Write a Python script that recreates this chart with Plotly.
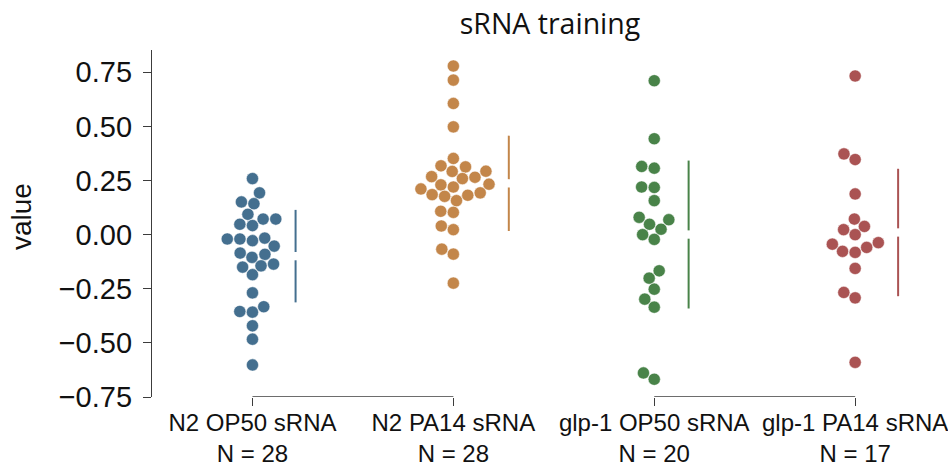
import numpy as np
import plotly.graph_objects as go

# ---------------- data ----------------
categories = ["N2 OP50 sRNA", "N2 PA14 sRNA", "glp-1 OP50 sRNA", "glp-1 PA14 sRNA"]

n2_op50 = [0.259, 0.193, 0.151, 0.143, 0.094, 0.048, 0.042, 0.072, 0.072,
           -0.016, -0.028, -0.020, -0.020, -0.053, -0.091, -0.105, -0.085,
           -0.150, -0.144, -0.136, -0.185, -0.269, -0.355, -0.358, -0.333,
           -0.421, -0.483, -0.602]
n2_pa14 = [0.779, 0.714, 0.606, 0.498, 0.352, 0.313, 0.318, 0.293, 0.292,
           0.265, 0.259, 0.268, 0.233, 0.220, 0.230, 0.211, 0.193, 0.182,
           0.177, 0.185, 0.157, 0.108, 0.103, 0.040, 0.023, -0.067, -0.090,
           -0.224]
glp1_op50 = [0.711, 0.443, 0.315, 0.307, 0.220, 0.218, 0.157, 0.080, 0.069,
             0.048, 0.025, 0.000, -0.022, -0.167, -0.201, -0.252, -0.298,
             -0.335, -0.639, -0.668]
glp1_pa14 = [0.733, 0.373, 0.347, 0.188, 0.072, 0.023, 0.038, 0.000, -0.044,
             -0.077, -0.082, -0.059, -0.037, -0.156, -0.267, -0.292, -0.590]

series = [n2_op50, n2_pa14, glp1_op50, glp1_pa14]
colors = ["#446f8f", "#c3864a", "#498349", "#aa5353"]

y_ticks = [-0.75, -0.5, -0.25, 0.0, 0.25, 0.5, 0.75]
title_text = "sRNA training"
y_label = "value"

# ---------------- layout constants ----------------
W, H = 948, 470
PLOT_L, PLOT_R, PLOT_T, PLOT_B = 152, 948, 50, 397   # page pixels
M_L, M_R, M_T, M_B = PLOT_L, W - PLOT_R, PLOT_T, H - PLOT_B
PX_X = 200.9
X_RANGE = [-0.5, -0.5 + (PLOT_R - PLOT_L) / PX_X]
Y_RANGE = [-0.75, 0.853]
PX_Y = (PLOT_B - PLOT_T) / (Y_RANGE[1] - Y_RANGE[0])
R = 6.03  # point radius in px for swarm layout


def beeswarm(values, center):
    """seaborn-style beeswarm computed in pixel space."""
    vals = np.asarray(values, dtype=float)
    n = len(vals)
    xyr = np.c_[np.full(n, center * PX_X), vals * PX_Y, np.full(n, R)]
    sorter = np.argsort(xyr[:, 1])
    orig = xyr[sorter]
    midline = orig[0, 0]
    swarm = np.atleast_2d(orig[0])
    for p in orig[1:]:
        x_i, y_i, r_i = p
        neigh = []
        for q in swarm[::-1]:
            if (y_i - q[1]) < (r_i + q[2]):
                neigh.append(q)
            else:
                break
        neigh = np.array(neigh).reshape(-1, 3)
        cands = [p]
        left_first = True
        for x_j, y_j, r_j in neigh:
            dy = y_i - y_j
            dx = np.sqrt(max((r_i + r_j) ** 2 - dy ** 2, 0)) * 1.05
            cl, cr = (x_j - dx, y_i, r_i), (x_j + dx, y_i, r_i)
            cands.extend([cl, cr] if left_first else [cr, cl])
            left_first = not left_first
        cands = np.array(cands)
        cands = cands[np.argsort(np.abs(cands[:, 0] - midline))]
        chosen = cands[0]
        if len(neigh):
            for c in cands:
                d2 = (neigh[:, 0] - c[0]) ** 2 + (neigh[:, 1] - c[1]) ** 2
                if np.all(d2 >= (neigh[:, 2] + c[2]) ** 2):
                    chosen = c
                    break
        swarm = np.vstack([swarm, chosen])
    out = np.empty_like(swarm)
    out[sorter] = swarm
    return out[:, 0] / PX_X


fig = go.Figure()
gap = 4.15 / PX_Y
for i, (vals, col) in enumerate(zip(series, colors)):
    xs = beeswarm(vals, i)
    fig.add_trace(go.Scatter(
        x=xs, y=vals, mode="markers", cliponaxis=False, showlegend=False,
        marker=dict(color=col, size=12.2, line=dict(color="white", width=0.5)),
    ))
    m = float(np.mean(vals))
    sd = float(np.std(vals, ddof=1))
    lx = float(np.max(xs)) + 19.8 / PX_X
    fig.add_trace(go.Scatter(
        x=[lx, lx, None, lx, lx],
        y=[m + sd, m + gap, None, m - gap, m - sd],
        mode="lines", line=dict(color=col, width=2), showlegend=False,
        hoverinfo="skip",
    ))

# category brackets (x spine pieces)
axis_col = "#3c3c3c"
for a, b in [(0, 1), (2, 3)]:
    fig.add_shape(type="line", xref="x", yref="y", x0=a, x1=b,
                  y0=Y_RANGE[0], y1=Y_RANGE[0],
                  line=dict(color=axis_col, width=1.3))

ticktext = [f"{c}<br>N = {len(s)}" for c, s in zip(categories, series)]

fig.update_layout(
    width=W, height=H,
    margin=dict(l=M_L, r=M_R, t=M_T, b=M_B, autoexpand=False),
    paper_bgcolor="white", plot_bgcolor="white",
    title=dict(text=title_text, x=0.5, xref="paper", xanchor="center",
               y=1 - 24 / H, yref="container", yanchor="middle",
               automargin=False,
               font=dict(family="Open Sans", size=28.5, color="#111111")),
    xaxis=dict(range=X_RANGE, tickmode="array", tickvals=[0, 1, 2, 3],
               ticktext=ticktext, ticks="outside", ticklen=8, tickwidth=1.3,
               tickcolor=axis_col, showline=False, showgrid=False,
               zeroline=False, ticklabelstandoff=-4, automargin=False,
               ticklabeloverflow="allow",
               tickfont=dict(family="Liberation Sans", size=24, color="#111111")),
    yaxis=dict(range=Y_RANGE, tickmode="array", tickvals=y_ticks,
               tickformat=".2f", ticks="outside", ticklen=8, tickwidth=1.3,
               tickcolor=axis_col, showline=True, linecolor=axis_col,
               linewidth=1.3, showgrid=False, zeroline=False,
               ticklabelstandoff=5, automargin=False,
               tickfont=dict(family="Liberation Sans", size=29, color="#111111")),
    annotations=[dict(text=y_label, textangle=-90, xref="paper", yref="paper",
                      x=(21.5 - PLOT_L) / (PLOT_R - PLOT_L),
                      y=(PLOT_B - 216.5) / (PLOT_B - PLOT_T),
                      xanchor="center", yanchor="middle", showarrow=False,
                      font=dict(family="Liberation Sans", size=28, color="#111111"))],
)

fig.write_html("out.html",
               config={"displayModeBar": False},
               post_script="document.body.style.margin='0';"
                           "document.documentElement.style.overflow='hidden';")
